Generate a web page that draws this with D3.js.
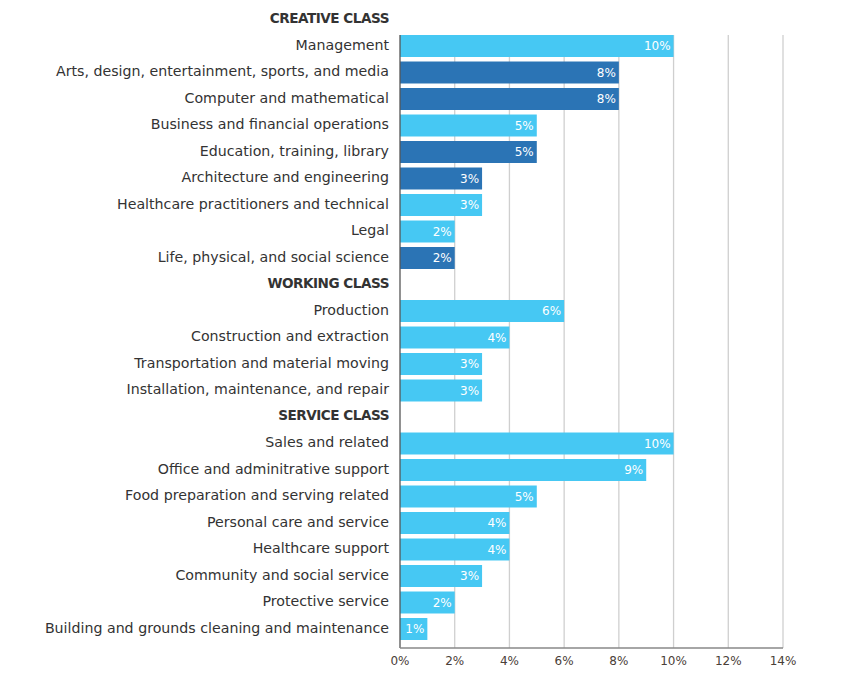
<!DOCTYPE html>
<html><head><meta charset="utf-8">
<script src="https://cdn.jsdelivr.net/npm/d3@7"></script>
<style>body{margin:0;background:#fff;}svg{display:block;font-family:"DejaVu Sans",sans-serif;}</style>
</head><body><svg id="c" width="853" height="685"></svg>
<script>
const rows = ["CREATIVE CLASS","Management","Arts, design, entertainment, sports, and media","Computer and mathematical","Business and financial operations","Education, training, library","Architecture and engineering","Healthcare practitioners and technical","Legal","Life, physical, and social science","WORKING CLASS","Production","Construction and extraction","Transportation and material moving","Installation, maintenance, and repair","SERVICE CLASS","Sales and related","Office and adminitrative support","Food preparation and serving related","Personal care and service","Healthcare support","Community and social service","Protective service","Building and grounds cleaning and maintenance"];
const headers = ["CREATIVE CLASS","WORKING CLASS","SERVICE CLASS"];
const values = [null,10,8,8,5,5,3,3,2,2,null,6,4,3,3,null,10,9,5,4,4,3,2,1];
const dark = [false,false,true,true,false,true,true,false,false,true,false,false,false,false,false,false,false,false,false,false,false,false,false,false];
const ticks = [0,2,4,6,8,10,12,14];

const svg = d3.select("#c");
const x = d3.scaleLinear().domain([0,14]).range([400,783]);
const y = d3.scaleBand().domain(rows).range([6.25,642.25]).paddingInner(0.17).paddingOuter(0.085);
const gridTop = y(rows[1]), axisY = 648;

svg.append("g").selectAll("line").data(ticks.slice(1)).join("line")
  .attr("x1",d=>x(d)).attr("x2",d=>x(d)).attr("y1",gridTop).attr("y2",axisY)
  .attr("stroke","#cfcfcf").attr("stroke-width",1.3);

const data = rows.map((r,i)=>({r,v:values[i],dark:dark[i]})).filter(d=>d.v!=null);
svg.append("g").selectAll("rect").data(data).join("rect")
  .attr("x",x(0)).attr("y",d=>y(d.r)).attr("width",d=>x(d.v)-x(0)).attr("height",y.bandwidth())
  .attr("fill",d=>d.dark?"#2b74b5":"#46c8f3");
svg.append("g").selectAll("text").data(data).join("text")
  .attr("x",d=>x(d.v)-3).attr("y",d=>y(d.r)+y.bandwidth()/2).attr("dy","0.34em")
  .attr("text-anchor","end").attr("fill","#fff").attr("font-size",12).text(d=>d.v+"%");

svg.append("g").selectAll("text").data(rows).join("text")
  .attr("x",389).attr("y",d=>y(d)+y.bandwidth()/2-1.5).attr("dy","0.36em").attr("text-anchor","end")
  .attr("fill","#333")
  .attr("font-size",d=>headers.includes(d)?13.6:14.2)
  .attr("letter-spacing",d=>headers.includes(d)?-0.5:0)
  .attr("font-weight",d=>headers.includes(d)?"bold":"normal")
  .text(d=>d);

svg.append("line").attr("x1",x(0)).attr("x2",x(0)).attr("y1",gridTop).attr("y2",axisY).attr("stroke","#555").attr("stroke-width",1.3);
svg.append("line").attr("x1",x(0)).attr("x2",x(14)).attr("y1",axisY).attr("y2",axisY).attr("stroke","#888").attr("stroke-width",1.3);

svg.append("g").selectAll("text").data(ticks).join("text")
  .attr("x",d=>x(d)).attr("y",axisY+13).attr("dy","0.36em").attr("text-anchor","middle")
  .attr("fill","#4a4038").attr("font-size",12).text(d=>d+"%");
</script></body></html>
